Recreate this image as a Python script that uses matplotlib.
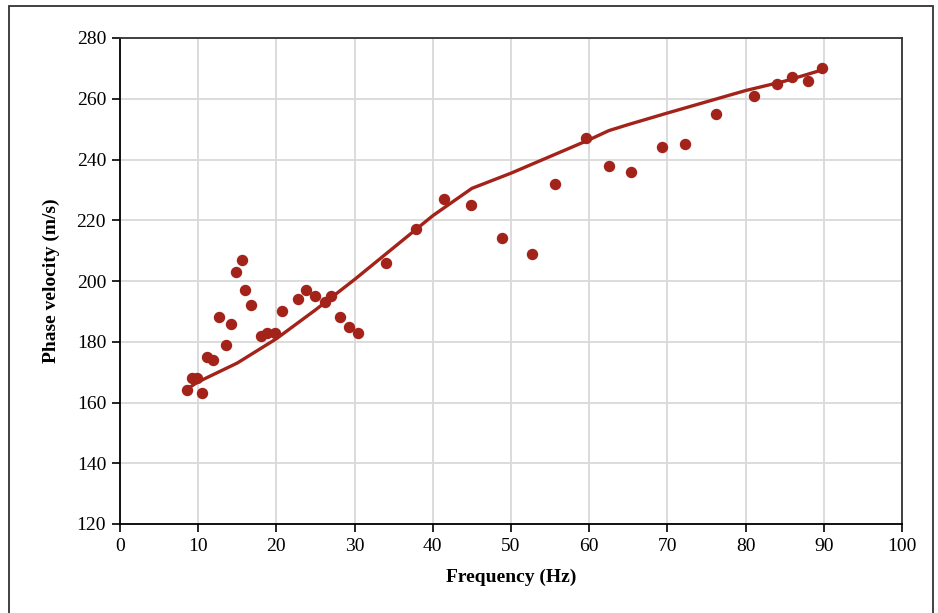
import numpy as np
import matplotlib.pyplot as plt
from matplotlib.patches import Rectangle

plt.rcParams['font.family'] = ['Liberation Serif', 'DejaVu Serif']

# measured points
freq = [8.6, 9.2, 9.85, 10.5, 11.1, 11.9, 12.7, 13.6, 14.2, 14.8, 15.6, 16.0,
        16.8, 18.0, 18.8, 19.8, 20.7, 22.8, 23.8, 24.9, 26.2, 27.0, 28.1, 29.3,
        30.4, 34.0, 37.9, 41.4, 44.9, 48.8, 52.7, 55.6, 59.6, 62.5, 65.3, 69.3,
        72.3, 76.2, 81.1, 84.0, 85.9, 88.0, 89.8]
vel = [164, 168, 168, 163, 175, 174, 188, 179, 186, 203, 207, 197,
       192, 182, 183, 183, 190, 194, 197, 195, 193, 195, 188, 185,
       183, 206, 217, 227, 225, 214, 209, 232, 247, 238, 236, 244,
       245, 255, 261, 265, 267, 266, 270]

# fitted curve
fit_f = [8.6, 10, 15, 20, 25, 30, 35, 40, 45, 50, 55, 60, 62.5, 65, 70, 75, 80, 85, 89.8]
fit_v = [164.5, 166.8, 173, 181, 190.5, 200.5, 211, 221.5, 230.5, 235.5, 241, 246.5,
         249.5, 251.5, 255.3, 259, 262.7, 265.8, 269.5]

red = '#a3231a'

fig = plt.figure(figsize=(9.38, 6.13), dpi=100)
ax = fig.add_axes([120/938, 1 - 524/613, 782/938, 486/613])

# outer frame around the figure
fig.patches.append(Rectangle((9/938, -0.05), 924/938, 1.05 - 6/613, transform=fig.transFigure,
                             fill=False, edgecolor='#333333', lw=1.3))

ax.plot(fit_f, fit_v, color=red, lw=2.4, zorder=3)
ax.plot(freq, vel, 'o', color=red, ms=7.2, zorder=4)

ax.set_xlim(0, 100)
ax.set_ylim(120, 280)
ax.set_xticks(np.arange(0, 101, 10))
ax.set_yticks(np.arange(120, 281, 20))
ax.grid(True, color='#d9d9d9', lw=1.3)
ax.set_axisbelow(True)

for s in ax.spines.values():
    s.set_color('#333333')
    s.set_linewidth(1.3)
ax.spines['left'].set_color('black')
ax.spines['bottom'].set_color('black')

ax.tick_params(axis='both', direction='out', length=6, width=1.2, labelsize=14, colors='black', pad=4)
ax.set_xlabel('Frequency (Hz)', fontsize=14, fontweight='bold', labelpad=10)
ax.set_ylabel('Phase velocity (m/s)', fontsize=14, fontweight='bold', labelpad=12)

fig.savefig('out.png', dpi=100)
